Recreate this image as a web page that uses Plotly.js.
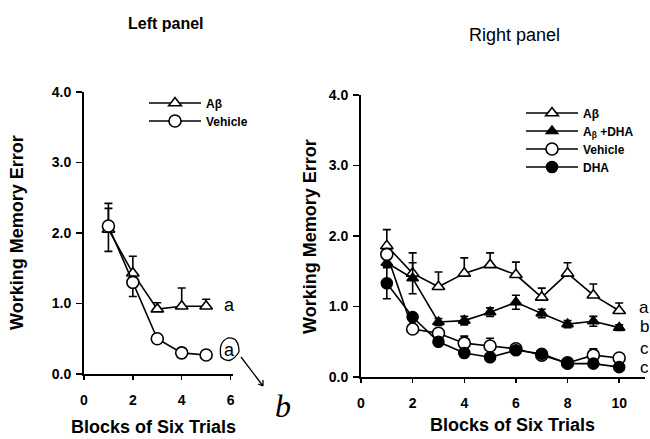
<!DOCTYPE html>
<html><head><meta charset="utf-8">
<script src="https://cdn.plot.ly/plotly-3.0.1.min.js"></script>
<style>body{margin:0;background:#fff}#c{width:650px;height:439px}</style>
</head><body><div id="c"></div>
<script>
// Left panel data
const blocksL = [1, 2, 3, 4, 5];
const abL = [2.05, 1.43, 0.92, 0.96, 0.96];
const abL_up = [0.3, 0.24, 0.09, 0.26, 0.1];
const abL_dn = [0, 0, 0, 0, 0];
const vehL = [2.1, 1.3, 0.5, 0.3, 0.27];
const vehL_up = [0.32, 0, 0, 0, 0];
const vehL_dn = [0.36, 0.2, 0, 0, 0];

// Right panel data
const blocksR = [1, 2, 3, 4, 5, 6, 7, 8, 9, 10];
const abR = [1.86, 1.47, 1.28, 1.47, 1.59, 1.45, 1.13, 1.47, 1.16, 0.94];
const abR_up = [0.23, 0.29, 0.21, 0.22, 0.17, 0.18, 0.13, 0.15, 0.16, 0.11];
const abdhaR = [1.62, 1.4, 0.78, 0.8, 0.92, 1.06, 0.9, 0.75, 0.79, 0.7];
const abdhaR_err = [0.05, 0.22, 0.05, 0.06, 0.06, 0.1, 0.06, 0.05, 0.07, 0.04];
const vehR = [1.74, 0.68, 0.62, 0.48, 0.44, 0.4, 0.31, 0.2, 0.31, 0.27];
const vehR_up = [0.05, 0.03, 0.04, 0.1, 0.11, 0.04, 0.03, 0.03, 0.09, 0.03];
const dhaR = [1.33, 0.85, 0.5, 0.34, 0.28, 0.38, 0.33, 0.19, 0.19, 0.14];
const dhaR_err = [0.22, 0.04, 0.04, 0.03, 0.03, 0.03, 0.03, 0.03, 0.03, 0.03];

const xTicksL = [0, 2, 4, 6];
const xTicksR = [0, 2, 4, 6, 8, 10];
const yTicks = [0, 1, 2, 3, 4];
const yTickText = ['0.0', '1.0', '2.0', '3.0', '4.0'];

const F = "Liberation Sans, Arial, sans-serif";
const K = "#000";
function tr(x, y, name, sym, fill, size, xa, ya, leg, up, dn) {
  return {
    x: x, y: y, name: name, type: 'scatter', mode: 'lines+markers',
    xaxis: xa, yaxis: ya, legend: leg,
    line: {color: K, width: 1.6},
    marker: {symbol: sym, size: size, color: fill, line: {color: K, width: 1.6}},
    error_y: {type: 'data', symmetric: false, array: up, arrayminus: dn, color: K, thickness: 1.6, width: 4}
  };
}
const data = [
  tr(blocksL, abL, 'Aβ', 'triangle-up', '#fff', 11, 'x', 'y', 'legend', abL_up, abL_dn),
  tr(blocksL, vehL, 'Vehicle', 'circle', '#fff', 12, 'x', 'y', 'legend2', vehL_up, vehL_dn),
  tr(blocksR, abR, 'Aβ', 'triangle-up', '#fff', 11, 'x2', 'y2', 'legend3', abR_up, abR.map(() => 0)),
  tr(blocksR, abdhaR, 'A<sub>β</sub> +DHA', 'triangle-up', K, 10, 'x2', 'y2', 'legend4', abdhaR_err, abdhaR_err),
  tr(blocksR, vehR, 'Vehicle', 'circle', '#fff', 12, 'x2', 'y2', 'legend5', vehR_up, vehR.map(() => 0)),
  tr(blocksR, dhaR, 'DHA', 'circle', K, 11, 'x2', 'y2', 'legend6', dhaR_err, dhaR_err)
];
const tickf = {family: F, size: 14, color: K, weight: 'bold'};
function xax(dom, rng, vals) {
  return {domain: dom, range: rng, tickvals: vals, ticktext: vals.map(String), showline: true, linecolor: K, linewidth: 2,
    ticks: 'outside', ticklen: 4, tickwidth: 1.5, tickcolor: K, showgrid: false, zeroline: false, tickfont: tickf,
    ticklabelstandoff: 8, fixedrange: true};
}
function yax(dom, anchor) {
  return {domain: dom, range: [0, 4], anchor: anchor, tickvals: yTicks, ticktext: yTickText,
    showline: true, linecolor: K, linewidth: 2, ticks: 'outside', ticklen: 6, tickwidth: 1.5, tickcolor: K,
    showgrid: false, zeroline: false, tickfont: tickf, ticklabelstandoff: 2};
}
const legf = {family: F, size: 12, color: K, weight: 'bold'};
function leg(x, y) {
  return {x: x/650, y: 1-y/439, xanchor: 'left', yanchor: 'middle', bgcolor: 'rgba(0,0,0,0)', font: legf, itemwidth: 52};
}
function ann(t, x, y, font, angle) {
  return {text: t, x: x/650, y: 1-y/439, xref: 'paper', yref: 'paper', xanchor: 'center', yanchor: 'middle',
    showarrow: false, font: font, textangle: angle || 0};
}
const letf = {family: F, size: 18, color: K};
const letf2 = {family: F, size: 17, color: K};
const titf = {family: F, size: 18, color: K, weight: 'bold'};
const layout = {
  width: 650, height: 439, margin: {l: 0, r: 0, t: 0, b: 0},
  paper_bgcolor: '#fff', plot_bgcolor: 'rgba(0,0,0,0)', showlegend: true,
  xaxis: xax([84/650, 233/650], [0, 6.1], xTicksL),
  yaxis: yax([1-374/439, 1-92/439], 'x'),
  xaxis2: Object.assign(xax([361/650, 645/650], [0, 11], xTicksR), {anchor: 'y2'}),
  yaxis2: yax([1-377/439, 1-95/439], 'x2'),
  legend: leg(144, 103), legend2: leg(144, 121),
  legend3: leg(521, 113), legend4: leg(521, 131), legend5: leg(521, 149), legend6: leg(521, 167),
  annotations: [
    ann('Left panel', 166, 23, {family: F, size: 16, color: K, weight: 'bold'}),
    ann('Right panel', 514, 35, {family: F, size: 18, color: K}),
    ann('Working Memory Error', 17, 233, titf, -90),
    ann('Working Memory Error', 310, 237, titf, -90),
    ann('Blocks of Six Trials', 153, 427, titf),
    ann('Blocks of Six Trials', 512, 425, titf),
    ann('a', 229, 305, letf),
    ann('a', 229, 350, letf),
    ann('a', 644, 307, letf2),
    ann('b', 644, 326, letf2),
    ann('c', 644, 348, letf2),
    ann('c', 644, 367, letf2),
    ann('<i>b</i>', 283, 406, {family: 'Liberation Serif, serif', size: 32, color: K})
  ],
  shapes: [
    {type: 'path', xref: 'paper', yref: 'paper', line: {color: K, width: 1.3},
      path: `M ${239/650} ${1-352/439} Q ${239/650} ${1-337/439} ${228/650} ${1-338/439} Q ${218/650} ${1-342/439} ${221/650} ${1-357/439} Q ${230/650} ${1-366/439} ${239/650} ${1-352/439}`},
    {type: 'path', xref: 'paper', yref: 'paper', line: {color: K, width: 1.3},
      path: `M ${241/650} ${1-357/439} L ${263/650} ${1-386/439} M ${263/650} ${1-386/439} L ${258/650} ${1-384/439} M ${263/650} ${1-386/439} L ${263/650} ${1-380/439}`}
  ]
};
Plotly.newPlot('c', data, layout, {staticPlot: true});
</script></body></html>
